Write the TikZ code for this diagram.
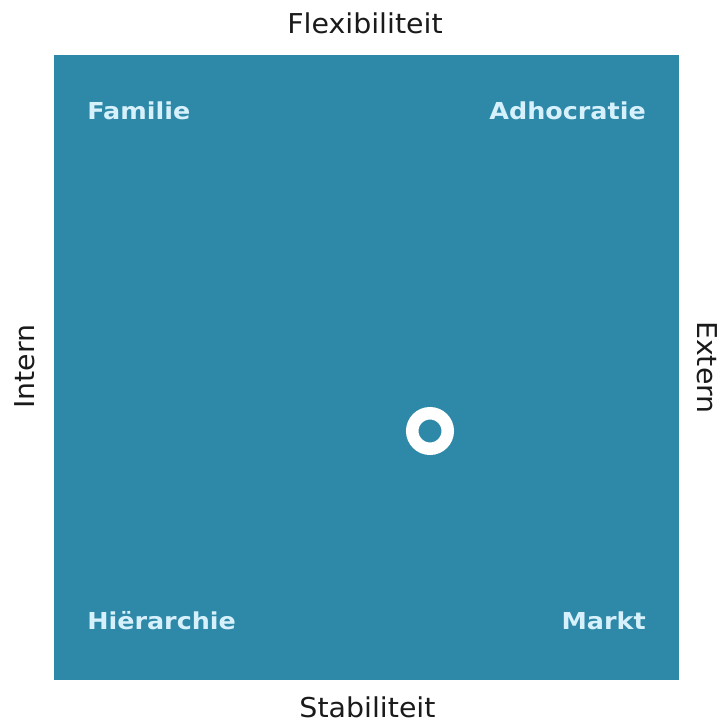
\documentclass[tikz,border=0pt]{standalone}
\usepackage{fontspec}
\setmainfont[FakeStretch=1.04]{DejaVu Sans}
\newfontfamily\quadfont[FakeStretch=1.09]{DejaVu Sans Bold}
\definecolor{quadfill}{HTML}{2E89A9}
\definecolor{quadtext}{HTML}{D6F1FB}
\definecolor{axistext}{HTML}{1A1A1A}
\tikzset{
  quadlabel/.style={inner sep=0pt, text=quadtext, font=\quadfont\fontsize{17.5}{20}\selectfont},
  axislabel/.style={inner sep=0pt, text=axistext, font=\fontsize{20.5}{24}\selectfont},
}
\begin{document}
\begin{tikzpicture}[x=0.75pt,y=-0.75pt]
  \useasboundingbox (0,0) rectangle (719,726);
  % quadrant field
  \fill[quadfill] (54,55) rectangle (679,680);
  % corner labels
  \node[quadlabel, anchor=base west] (familie) at (87,119) {Familie};
  \node[quadlabel, anchor=base east] (adhocratie) at (646,119) {Adhocratie};
  \node[quadlabel, anchor=base west] (hierarchie) at (87,629) {Hiërarchie};
  \node[quadlabel, anchor=base east] (markt) at (646,629) {Markt};
  % axis labels
  \node[axislabel, anchor=base] (flex) at (365,33) {Flexibiliteit};
  \node[axislabel, anchor=base] (stab) at (367.5,717) {Stabiliteit};
  \node[axislabel, anchor=base, rotate=90] (intern) at (35,366.5) {Intern};
  \node[axislabel, anchor=base, rotate=-90] (extern) at (697,367.5) {Extern};
  % position marker
  \draw[white, line width=12.5*0.75pt] (430,431) circle[radius=17.75];
\end{tikzpicture}
\end{document}
